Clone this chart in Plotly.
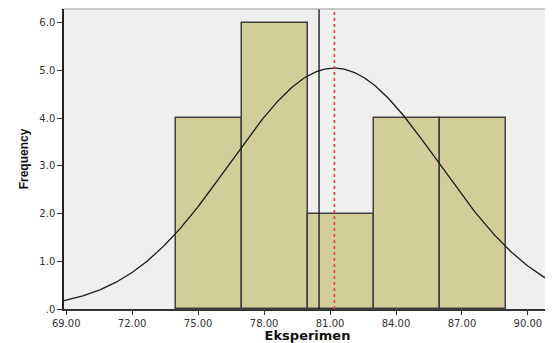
import numpy as np
import plotly.graph_objects as go

bin_edges_left = [74, 77, 80, 83, 86]
frequencies = [4, 6, 2, 4, 4]
bin_width = 3
mean_value = 81.2
sd_value = 4.74
median_value = 80.5
x_tick_vals = [69, 72, 75, 78, 81, 84, 87, 90]
x_tick_text = ["69.00", "72.00", "75.00", "78.00", "81.00", "84.00", "87.00", "90.00"]
y_tick_vals = [0, 1, 2, 3, 4, 5, 6]
y_tick_text = [".0", "1.0", "2.0", "3.0", "4.0", "5.0", "6.0"]

x_range = [68.9, 91.05]
y_range = [0, 6.29]

n_total = sum(frequencies)
centers = [b + bin_width / 2 for b in bin_edges_left]

xs = np.linspace(x_range[0], x_range[1], 300)
ys = n_total * bin_width / (sd_value * np.sqrt(2 * np.pi)) * np.exp(-0.5 * ((xs - mean_value) / sd_value) ** 2)

fig = go.Figure()
fig.add_trace(go.Bar(
    x=centers, y=frequencies, width=[bin_width] * len(centers),
    marker=dict(color="#D3CE99", line=dict(color="#3f3f3f", width=1.5)),
    hoverinfo="skip",
))
fig.add_trace(go.Scatter(
    x=xs, y=ys, mode="lines", line=dict(color="#1a1a1a", width=1.3), hoverinfo="skip",
))
fig.add_trace(go.Scatter(
    x=[median_value, median_value], y=[y_range[0], y_range[1]], mode="lines",
    line=dict(color="#111111", width=1.3), hoverinfo="skip",
))
fig.add_trace(go.Scatter(
    x=[mean_value, mean_value], y=[y_range[0], y_range[1]], mode="lines",
    line=dict(color="#E0404A", width=1.6, dash="dot"), hoverinfo="skip",
))

fig.update_layout(
    width=545, height=335,
    margin=dict(l=56, r=2, t=1, b=34, autoexpand=False),
    paper_bgcolor="white",
    plot_bgcolor="#EFEFEF",
    showlegend=False,
    bargap=0,
    font=dict(family="DejaVu Sans, Arial, sans-serif", color="#222222"),
)
fig.update_xaxes(
    range=x_range, tickvals=x_tick_vals, ticktext=x_tick_text,
    ticks="outside", ticklen=4, tickcolor="#333333", tickwidth=1,
    showgrid=False, zeroline=False,
    showline=True, linecolor="#333333", linewidth=1.5, mirror=False,
    tickfont=dict(size=10, color="#333333"),
    title=dict(text="<b>Eksperimen</b>", font=dict(size=13, color="#111111"), standoff=2),
    automargin=False,
)
fig.update_yaxes(
    range=y_range, tickvals=y_tick_vals, ticktext=y_tick_text,
    ticks="outside", ticklen=5, tickcolor="#333333", tickwidth=1,
    showgrid=False, zeroline=False,
    showline=True, linecolor="#222222", linewidth=1.5,
    tickfont=dict(size=10, color="#333333"),
    title=dict(text="<b>Frequency</b>", font=dict(size=12, color="#111111", family="Liberation Sans Narrow, Arial Narrow, sans-serif"), standoff=8),
    automargin=False,
)
# frame on top and right
fig.add_shape(type="line", xref="paper", yref="paper", x0=0, x1=1, y0=1, y1=1,
              line=dict(color="#999999", width=1))
fig.add_shape(type="line", xref="paper", yref="paper", x0=1, x1=1, y0=0, y1=1,
              line=dict(color="#999999", width=1))

fig.write_html("out.html")
